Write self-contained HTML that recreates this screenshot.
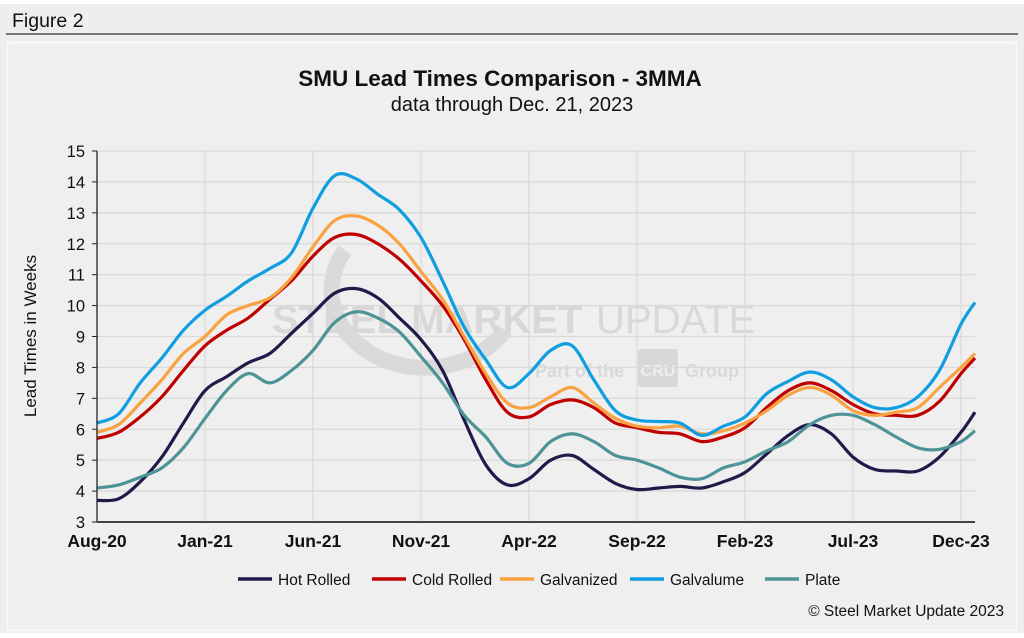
<!DOCTYPE html>
<html><head><meta charset="utf-8"><style>
html,body{margin:0;padding:0;background:#fff;}
body{width:1024px;height:633px;overflow:hidden;font-family:"Liberation Sans",Arial,sans-serif;}
</style></head><body>
<svg id="chart" width="1024" height="633" xmlns="http://www.w3.org/2000/svg" font-family="Liberation Sans, Arial, sans-serif">
<rect x="0" y="4" width="1024" height="629" fill="#eeeeee"/>
<text x="12" y="27" font-size="19.5" fill="#111">Figure 2</text>
<line x1="6" y1="34" x2="1018" y2="34" stroke="#333" stroke-width="1.2"/>
<rect x="7.5" y="42.5" width="1009" height="588" fill="#efefef" stroke="#fafafa" stroke-width="1.5"/>
<text x="500" y="86" font-size="22.5" font-weight="bold" text-anchor="middle" fill="#111">SMU Lead Times Comparison - 3MMA</text>
<text x="512" y="111" font-size="20" text-anchor="middle" fill="#111">data through Dec. 21, 2023</text>
<g id="watermark" opacity="0.13">
<path d="M 345 250 A 90 75 0 1 0 505 330" fill="none" stroke="#555" stroke-width="16"/>
<text x="272" y="333" font-size="40" font-weight="bold" fill="#444">STEEL MARKET</text>
<text x="596" y="333" font-size="40" fill="#444">UPDATE</text>
<text x="535" y="377" font-size="18" font-weight="bold" fill="#444">Part of the</text>
<rect x="638" y="349" width="40" height="38" rx="3" fill="#444"/>
<text x="658" y="376" font-size="16" font-weight="bold" fill="#eee" text-anchor="middle">CRU</text>
<text x="685" y="377" font-size="18" font-weight="bold" fill="#444">Group</text>
</g>
<g id="grid"></g>
<g id="series"></g>
<g id="axes"></g>
<text transform="translate(36,336) rotate(-90)" font-size="17" text-anchor="middle" fill="#111">Lead Times in Weeks</text>
<g id="legend"></g>
<text x="1004" y="616" font-size="15.5" text-anchor="end" fill="#111">© Steel Market Update 2023</text>
</svg>
<script>
const months = [];
for (let i = 0; i <= 40; i++) months.push(i);
months.push(40.65);
const xTickLabels = ["Aug-20","Jan-21","Jun-21","Nov-21","Apr-22","Sep-22","Feb-23","Jul-23","Dec-23"];
const xTickMonths = [0,5,10,15,20,25,30,35,40];
const yTicks = [3,4,5,6,7,8,9,10,11,12,13,14,15];
const hotRolled = [3.7,3.75,4.3,5.1,6.2,7.25,7.7,8.15,8.45,9.1,9.75,10.4,10.55,10.25,9.6,8.9,7.9,6.3,4.85,4.2,4.4,5.0,5.15,4.7,4.25,4.05,4.1,4.15,4.1,4.3,4.6,5.2,5.8,6.15,5.85,5.1,4.7,4.65,4.65,5.1,5.9,6.55];
const coldRolled = [5.7,5.9,6.4,7.05,7.9,8.7,9.2,9.6,10.2,10.8,11.6,12.2,12.3,12.0,11.5,10.8,10.0,8.9,7.6,6.55,6.4,6.8,6.95,6.7,6.2,6.05,5.9,5.85,5.6,5.75,6.05,6.7,7.25,7.5,7.25,6.8,6.5,6.45,6.45,6.9,7.8,8.3];
const galvanized = [5.9,6.15,6.85,7.6,8.45,9.0,9.7,10.0,10.25,10.9,11.9,12.75,12.9,12.6,12.0,11.1,10.2,9.0,7.8,6.85,6.7,7.05,7.35,6.85,6.35,6.1,6.05,6.1,5.85,5.95,6.2,6.6,7.1,7.35,7.1,6.6,6.45,6.55,6.7,7.35,8.0,8.45];
const galvalume = [6.2,6.5,7.5,8.3,9.2,9.85,10.3,10.8,11.2,11.7,13.15,14.2,14.1,13.6,13.1,12.2,10.8,9.3,8.25,7.35,7.8,8.55,8.7,7.6,6.6,6.3,6.25,6.2,5.8,6.1,6.4,7.15,7.55,7.85,7.6,7.05,6.7,6.7,7.05,7.9,9.4,10.1];
const plate = [4.1,4.2,4.45,4.75,5.4,6.35,7.25,7.8,7.5,7.9,8.55,9.45,9.8,9.6,9.15,8.35,7.5,6.45,5.75,4.9,4.9,5.6,5.85,5.6,5.15,5.0,4.75,4.45,4.4,4.75,4.95,5.3,5.6,6.15,6.45,6.45,6.15,5.75,5.4,5.35,5.6,5.95];
const seriesNames = ["Hot Rolled","Cold Rolled","Galvanized","Galvalume","Plate"];
const seriesColors = ["#1f1a4a","#c00000","#f9a23f","#0f9ee0","#4e9396"];
const seriesData = [hotRolled,coldRolled,galvanized,galvalume,plate];

const NS="http://www.w3.org/2000/svg";
const X0=97, X1=975, Y0=522, Y1=151;
const xScale = m => X0 + m*(961-X0)/40;
const yScale = v => Y0 - (v-3)*(Y0-Y1)/12;
function mk(tag, attrs, parent){const e=document.createElementNS(NS,tag);for(const k in attrs)e.setAttribute(k,attrs[k]);parent.appendChild(e);return e;}
const grid=document.getElementById('grid'), axes=document.getElementById('axes'), ser=document.getElementById('series'), leg=document.getElementById('legend');
yTicks.forEach(v=>{
  const y=yScale(v);
  if(v>3){const g=mk('line',{x1:X0,x2:X1,y1:y,y2:y,stroke:'#dadada','stroke-width':1.3},grid);
  
  }
  mk('line',{x1:X0-5,x2:X0,y1:y,y2:y,stroke:'#222','stroke-width':1},axes);
  const t=mk('text',{x:X0-12,y:y+6,'font-size':16.5,'text-anchor':'end',fill:'#111'},axes);
  t.textContent=v;
  
  
});
xTickMonths.forEach((m,i)=>{
  const x=xScale(m);
  if(m>0){const g=mk('line',{x1:x,x2:x,y1:Y1,y2:Y0,stroke:'#dadada','stroke-width':1.3},grid);
  
  }
  const t=mk('text',{x:x,y:547,'font-size':17.5,'font-weight':'bold','text-anchor':'middle',fill:'#111'},axes);
  t.textContent=xTickLabels[i];
  
  
});
mk('line',{x1:X0,x2:X0,y1:Y1,y2:Y0,stroke:'#222','stroke-width':1.3},axes);
mk('line',{x1:X0,x2:X1,y1:Y0,y2:Y0,stroke:'#444','stroke-width':2},axes);
function smoothPath(p){
  let d='M'+p[0][0].toFixed(1)+','+p[0][1].toFixed(1);
  for(let i=0;i<p.length-1;i++){
    const a=p[i-1]||p[i], b=p[i], c=p[i+1], e=p[i+2]||c;
    const c1x=b[0]+(c[0]-a[0])/6, c1y=b[1]+(c[1]-a[1])/6;
    const c2x=c[0]-(e[0]-b[0])/6, c2y=c[1]-(e[1]-b[1])/6;
    d+=' C'+c1x.toFixed(1)+','+c1y.toFixed(1)+' '+c2x.toFixed(1)+','+c2y.toFixed(1)+' '+c[0].toFixed(1)+','+c[1].toFixed(1);
  }
  return d;
}
seriesData.forEach((d,i)=>{
  const pts=d.map((v,j)=>[xScale(months[j]),yScale(v)]);
  const p=mk('path',{d:smoothPath(pts),fill:'none',stroke:seriesColors[i],'stroke-width':3.2,'stroke-linejoin':'round'},ser);
  
  
});
const legX=[238,372,500,630,765];
seriesNames.forEach((n,i)=>{
  const g=mk('g',{},leg);
  
  
  mk('line',{x1:legX[i],x2:legX[i]+34,y1:579,y2:579,stroke:seriesColors[i],'stroke-width':3.5},g);
  const t=mk('text',{x:legX[i]+40,y:585,'font-size':15.5,fill:'#111'},g);
  t.textContent=n;
});
</script>
</body></html>
